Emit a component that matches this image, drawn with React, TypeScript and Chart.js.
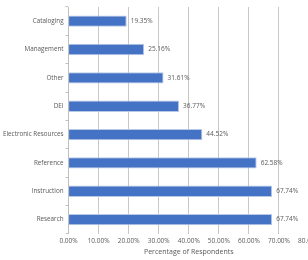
import React, { useEffect, useRef } from "react";
import { Chart, registerables } from "chart.js";

Chart.register(...registerables);

const categories = [
  "Cataloging",
  "Management",
  "Other",
  "DEI",
  "Electronic Resources",
  "Reference",
  "Instruction",
  "Research",
];
const values = [19.35, 25.16, 31.61, 36.77, 44.52, 62.58, 67.74, 67.74];
const xTickMax = 80;
const xTickStep = 10;
const axisTitle = "Percentage of Respondents";

const FONT = "'Open Sans', 'Noto Sans', sans-serif";

const valueLabels = {
  id: "valueLabels",
  afterDatasetsDraw(chart: any) {
    const ctx = chart.ctx;
    const meta = chart.getDatasetMeta(0);
    ctx.save();
    ctx.font = `6.5px ${FONT}`;
    ctx.fillStyle = "#595959";
    ctx.textAlign = "left";
    ctx.textBaseline = "middle";
    meta.data.forEach((el: any, i: number) => {
      const v = chart.data.datasets[0].data[i] as number;
      ctx.fillText(v.toFixed(2) + "%", el.x + 4, el.y);
    });
    ctx.restore();
  },
};

export default function App() {
  const ref = useRef<HTMLCanvasElement>(null);
  useEffect(() => {
    if (!ref.current) return;
    const chart = new Chart(ref.current, {
      type: "bar",
      data: {
        labels: categories,
        datasets: [
          {
            data: values,
            backgroundColor: "#4472C4",
            borderColor: "#b9c8e4",
            borderWidth: 1,
            barPercentage: 0.4,
            categoryPercentage: 1,
          },
        ],
      },
      options: {
        indexAxis: "y",
        animation: false,
        responsive: false,
        maintainAspectRatio: false,
        layout: { padding: { top: 7, left: 1, right: 0, bottom: 4 } },
        plugins: {
          legend: { display: false },
          tooltip: { enabled: false },
        },
        scales: {
          x: {
            min: 0,
            max: xTickMax,
            ticks: {
              stepSize: xTickStep,
              color: "#595959",
              font: { size: 6.5, family: FONT },
              padding: 3,
              maxRotation: 0,
              callback: (v: any) => Number(v).toFixed(2) + "%",
            },
            grid: { color: "#c8c8c8", drawTicks: false, lineWidth: 1 },
            border: { display: false },
            title: {
              display: true,
              text: axisTitle,
              color: "#595959",
              font: { size: 7, family: FONT },
              padding: { top: 0, bottom: 0 },
            },
          },
          y: {
            ticks: {
              color: "#595959",
              font: { size: 6.3, family: FONT },
              padding: 2,
            },
            grid: {
              offset: true,
              drawOnChartArea: false,
              drawTicks: true,
              tickLength: 3,
              color: "#bfbfbf",
            },
            border: { display: true, color: "#bfbfbf" },
          },
        },
      },
      plugins: [valueLabels],
    });
    return () => chart.destroy();
  }, []);
  return (
    <div
      style={{
        position: "fixed",
        left: 0,
        top: 0,
        width: 308,
        height: 260,
        overflow: "hidden",
        background: "#fff",
      }}
    >
      <canvas ref={ref} width={323} height={260} style={{ width: 323, height: 260, display: "block" }} />
    </div>
  );
}
